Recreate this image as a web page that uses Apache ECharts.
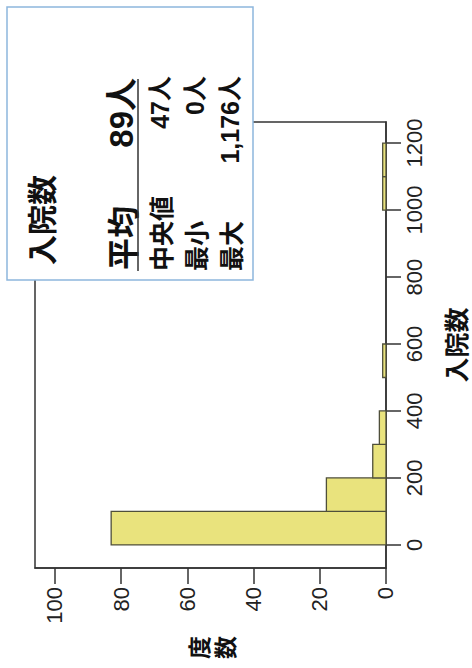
<!DOCTYPE html>
<html>
<head>
<meta charset="utf-8">
<script src="https://cdn.jsdelivr.net/npm/echarts@6/dist/echarts.min.js"></script>
<style>
html, body { margin: 0; padding: 0; background: #fff; overflow: hidden; width: 472px; height: 668px; }
#chart { position: absolute; left: 0; top: 0; width: 668px; height: 472px;
  transform-origin: 0 0; transform: translate(0px, 668px) rotate(-90deg); }
</style>
</head>
<body>
<div id="chart"></div>
<script>
// ---- data ----
const binStarts = [0, 100, 200, 300, 400, 500, 600, 700, 800, 900, 1000, 1100];
const binWidth = 100;
const counts = [83, 18, 4, 2, 0, 1, 0, 0, 0, 0, 1, 1];
const xTicks = [0, 200, 400, 600, 800, 1000, 1200];
const yTicks = [0, 20, 40, 60, 80, 100];
const xName = '入院数';
const yName = '度数';
const statTitle = '入院数';
const statLabels = ['平均', '中央値', '最小', '最大'];
const statValues = ['89人', '47人', '0人', '1,176人'];

const LATIN = "'Liberation Sans', 'Noto Sans CJK JP', sans-serif";
const CJK = "'Noto Sans CJK JP', 'Liberation Sans', sans-serif";

const histData = binStarts.map((s, i) => [s, s + binWidth, counts[i]]).filter(d => d[2] > 0);

const chart = echarts.init(document.getElementById('chart'), null, { renderer: 'svg' });

const graphics = [
  { type: 'rect', shape: { x: 388, y: 7, width: 273, height: 246 },
    style: { fill: '#fff', stroke: '#8db7dd', lineWidth: 1.5 }, z: 100 },
  { type: 'text', x: 403, y: 40, z: 101,
    style: { text: statTitle, font: 'bold 30px ' + CJK, fill: '#111', verticalAlign: 'middle', align: 'left' } },
  { type: 'text', x: 398, y: 121, z: 101,
    style: { text: statLabels[0], font: 'bold 32px ' + CJK, fill: '#111', verticalAlign: 'middle', align: 'left' } },
  { type: 'text', x: 590, y: 121, z: 101,
    style: { text: statValues[0], font: 'bold 33px ' + LATIN, fill: '#111', verticalAlign: 'middle', align: 'right' } },
  { type: 'line', shape: { x1: 397, y1: 138, x2: 589, y2: 138 }, z: 101,
    style: { stroke: '#333', lineWidth: 1.5 } }
];
const rowY = [160, 195, 230];
for (let i = 1; i < 4; i++) {
  graphics.push({ type: 'text', x: 397, y: rowY[i - 1], z: 101,
    style: { text: statLabels[i], font: 'bold 25px ' + CJK, fill: '#111', verticalAlign: 'middle', align: 'left' } });
  graphics.push({ type: 'text', x: 592, y: rowY[i - 1], z: 101,
    style: { text: statValues[i], font: 'bold 25px ' + LATIN, fill: '#111', verticalAlign: 'middle', align: 'right' } });
}

chart.setOption({
  animation: false,
  backgroundColor: '#fff',
  grid: { left: 100, right: 122, top: 35, bottom: 83.5, show: true, borderColor: '#333', borderWidth: 1.5, containLabel: false },
  xAxis: {
    type: 'value', min: -69, max: 1263,
    name: xName, nameLocation: 'middle', nameGap: 56,
    nameTextStyle: { fontFamily: CJK, fontWeight: 'bold', fontSize: 25, color: '#111' },
    axisLine: { show: true, onZero: false, lineStyle: { color: '#333', width: 1.5 } },
    axisTick: { show: true, inside: false, length: 15, lineStyle: { color: '#333', width: 1.5 }, customValues: xTicks },
    axisLabel: { customValues: xTicks, margin: 17, fontFamily: LATIN, fontSize: 22, color: '#222',
      formatter: v => String(v) },
    splitLine: { show: false }
  },
  yAxis: {
    type: 'value', min: 0, max: 106,
    name: yName.split('').join('\n'), nameLocation: 'middle', nameGap: 68, nameRotate: 0,
    nameTextStyle: { fontFamily: CJK, fontWeight: 'bold', fontSize: 23, lineHeight: 26, color: '#111' },
    axisLine: { show: true, onZero: false, lineStyle: { color: '#333', width: 1.5 } },
    axisTick: { show: true, inside: false, length: 16, lineStyle: { color: '#333', width: 1.5 }, customValues: yTicks },
    axisLabel: { customValues: yTicks, margin: 19, fontFamily: LATIN, fontSize: 22, color: '#222',
      formatter: v => String(v) },
    splitLine: { show: false }
  },
  graphic: graphics,
  series: [{
    type: 'custom',
    data: histData,
    encode: { x: [0, 1], y: 2 },
    renderItem: function (params, api) {
      const p0 = api.coord([api.value(0), api.value(2)]);
      const p1 = api.coord([api.value(1), 0]);
      return {
        type: 'rect',
        shape: { x: p0[0], y: p0[1], width: p1[0] - p0[0], height: p1[1] - p0[1] },
        style: { fill: '#e9e37d', stroke: '#4f4f3a', lineWidth: 1.3 }
      };
    }
  }]
});
</script>
</body>
</html>
